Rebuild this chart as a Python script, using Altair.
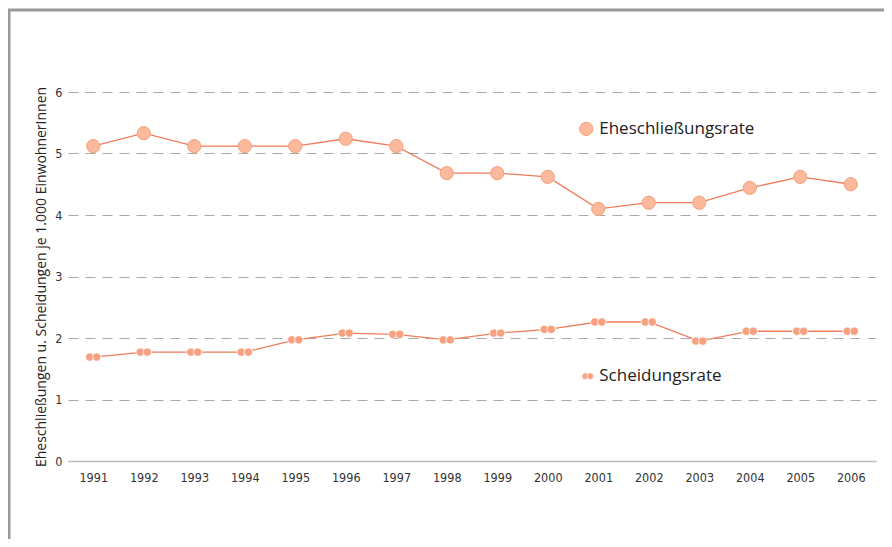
import altair as alt
import pandas as pd

years = [str(y) for y in range(1991, 2007)]
ehe = [5.12, 5.33, 5.12, 5.12, 5.12, 5.24, 5.12, 4.68, 4.68, 4.62, 4.10, 4.20, 4.20, 4.44, 4.62, 4.50]
scheid = [1.69, 1.77, 1.77, 1.77, 1.97, 2.08, 2.06, 1.97, 2.08, 2.14, 2.26, 2.26, 1.95, 2.11, 2.11, 2.11]
y_ticks = [0, 1, 2, 3, 4, 5, 6]

label_names = ["Eheschließungsrate", "Scheidungsrate"]
label_year = ["2001", "2001"]
label_val = [5.40, 1.38]

df = pd.DataFrame({"Jahr": years, "Ehe": ehe, "Scheid": scheid})
lab = pd.DataFrame({"name": label_names, "Jahr": label_year, "v": label_val})

LINE = "#f07c5a"
FONT_AX = "DejaVu Sans Condensed, Roboto, sans-serif"
FONT_T = "Open Sans"

x = alt.X("Jahr:O", scale=alt.Scale(type="point", padding=0.5),
          axis=alt.Axis(title=None, labelAngle=0, ticks=False, domain=True,
                        domainColor="#bbbbbb", domainWidth=1.5,
                        labelFont=FONT_AX, labelFontSize=12.5, labelColor="#333333",
                        labelPadding=10, grid=False))
yscale = alt.Scale(domain=[0, 6], nice=False)

base = alt.Chart(df)

grid = base.mark_line(opacity=0).encode(
    x=x,
    y=alt.Y("Ehe:Q", scale=yscale,
            axis=alt.Axis(values=y_ticks, format="d",
                          title="Eheschließungen u. Scheidungen je 1.000 EinwohnerInnen",
                          titleFont=FONT_T, titleFontSize=14, titleFontWeight="normal",
                          titleColor="#222222", titlePadding=6,
                          domain=False, ticks=False, labelPadding=6,
                          labelFont=FONT_AX, labelFontSize=12.5, labelColor="#333333",
                          grid=True, gridDash=[10, 7], gridColor="#aaaaaa", gridWidth=1.2)),
)

ehe_line = base.mark_line(color=LINE, strokeWidth=1.3).encode(x=x, y=alt.Y("Ehe:Q", scale=yscale))
ehe_pts = base.mark_circle(size=175, color="#fcb99c", opacity=1, stroke="#f4a07e", strokeWidth=1).encode(
    x=x, y=alt.Y("Ehe:Q", scale=yscale))

sch_line = base.mark_line(color=LINE, strokeWidth=1.3).encode(x=x, y=alt.Y("Scheid:Q", scale=yscale))
sch_pts1 = base.mark_circle(size=70, color="#f8a07f", opacity=1, xOffset=-3.5, stroke="white", strokeWidth=0.8).encode(
    x=x, y=alt.Y("Scheid:Q", scale=yscale))
sch_pts2 = base.mark_circle(size=70, color="#f8a07f", opacity=1, xOffset=3.5, stroke="white", strokeWidth=0.8).encode(
    x=x, y=alt.Y("Scheid:Q", scale=yscale))

labc = alt.Chart(lab)
lab_text = labc.mark_text(align="left", baseline="middle", dx=1, font=FONT_T, fontSize=17,
                          color="#222222").encode(x=x, y=alt.Y("v:Q", scale=yscale), text="name:N")
lab_big = alt.Chart(lab.iloc[[0]]).mark_circle(size=175, color="#fcb99c", opacity=1, stroke="#f4a07e",
                                               strokeWidth=1, xOffset=-12).encode(
    x=x, y=alt.Y("v:Q", scale=yscale))
lab_s1 = alt.Chart(lab.iloc[[1]]).mark_circle(size=45, color="#f8a07f", opacity=1, xOffset=-13,
                                              stroke="white", strokeWidth=0.8).encode(
    x=x, y=alt.Y("v:Q", scale=yscale))
lab_s2 = alt.Chart(lab.iloc[[1]]).mark_circle(size=45, color="#f8a07f", opacity=1, xOffset=-8,
                                              stroke="white", strokeWidth=0.8).encode(
    x=x, y=alt.Y("v:Q", scale=yscale))

frame = alt.Chart(lab.iloc[[0]]).mark_rect(fill=None, filled=False, stroke="#9a9a9a", strokeWidth=3,
                                            clip=False).encode(
    x=alt.value(-59), x2=alt.value(900), y=alt.value(-82), y2=alt.value(520))

chart = alt.layer(frame, grid, ehe_line, sch_line, ehe_pts, sch_pts1, sch_pts2,
                  lab_text, lab_big, lab_s1, lab_s2).properties(
    width=808, height=369,
    autosize=alt.AutoSizeParams(type="none"),
    padding={"left": 60, "top": 84, "right": 8, "bottom": 78},
    background="white",
).configure_view(stroke=None)

chart.save("out.html", embed_options={"renderer": "svg", "actions": False})
